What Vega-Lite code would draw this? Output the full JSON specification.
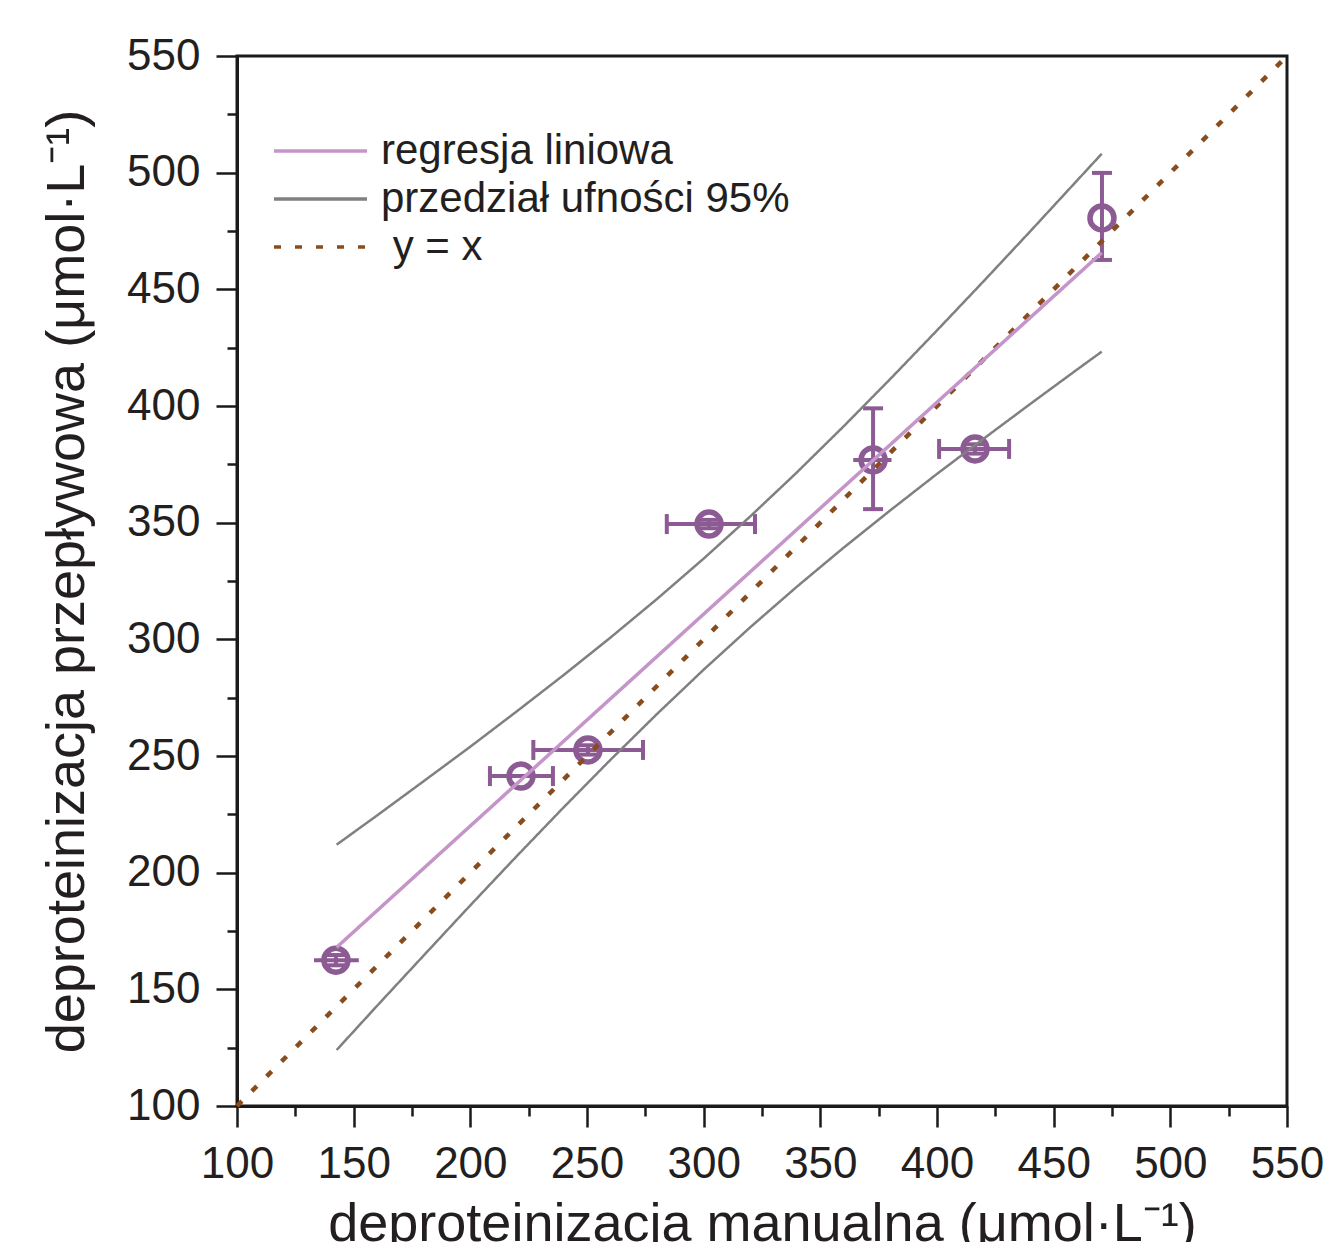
{
  "$schema": "https://vega.github.io/schema/vega-lite/v6.json",
  "width": 1050,
  "height": 1050,
  "autosize": {"type": "none"},
  "padding": {"left": 237, "top": 56, "right": 37, "bottom": 136},
  "background": "white",
  "config": {
    "font": "Liberation Sans",
    "view": {"stroke": "#1a1a1a", "strokeWidth": 3},
    "legend": {
      "orient": "none",
      "legendX": 35,
      "legendY": 74,
      "symbolType": "stroke",
      "symbolSize": 8649,
      "symbolStrokeWidth": 3.5,
      "labelFont": "Liberation Sans",
      "labelFontSize": 42,
      "labelColor": "#231f20",
      "labelOffset": 12,
      "labelLimit": 0,
      "clipHeight": 42,
      "rowPadding": 6,
      "padding": 0
    }
  },
  "datasets": {
    "points": [
      {"x": 142.4, "y": 162.5},
      {"x": 221.7, "y": 241.4},
      {"x": 250.4, "y": 252.6},
      {"x": 302.3, "y": 349.4},
      {"x": 372.6, "y": 376.9},
      {"x": 416.3, "y": 381.6},
      {"x": 470.7, "y": 480.6}
    ],
    "xerr": [
      {"y": 162.5, "xlo": 133.0, "xhi": 152.2},
      {"y": 241.4, "xlo": 208.4, "xhi": 235.4},
      {"y": 252.6, "xlo": 227.0, "xhi": 274.0},
      {"y": 349.4, "xlo": 284.2, "xhi": 322.0},
      {"y": 376.9, "xlo": 364.1, "xhi": 380.5},
      {"y": 381.6, "xlo": 400.9, "xhi": 430.9}
    ],
    "yerr": [
      {"x": 142.4, "ylo": 160.3, "yhi": 164.7},
      {"x": 250.4, "ylo": 250.6, "yhi": 254.6},
      {"x": 302.3, "ylo": 347.6, "yhi": 351.2},
      {"x": 372.6, "ylo": 355.8, "yhi": 399.0},
      {"x": 416.3, "ylo": 379.6, "yhi": 383.6},
      {"x": 470.7, "ylo": 462.6, "yhi": 499.9}
    ],
    "lines": [
      {"series": "\u2060 y = x", "curve": "yx", "x": 100, "y": 100},
      {"series": "\u2060 y = x", "curve": "yx", "x": 550, "y": 550},
      {"series": "regresja liniowa", "curve": "reg", "x": 142.7, "y": 168.0},
      {"series": "regresja liniowa", "curve": "reg", "x": 470.6, "y": 465.7},
      {"series": "przedział ufności 95%", "curve": "upper", "x": 142.7, "y": 212.0},
      {"series": "przedział ufności 95%", "curve": "upper", "x": 160, "y": 224.5},
      {"series": "przedział ufności 95%", "curve": "upper", "x": 180, "y": 239.2},
      {"series": "przedział ufności 95%", "curve": "upper", "x": 200, "y": 254.0},
      {"series": "przedział ufności 95%", "curve": "upper", "x": 220, "y": 269.2},
      {"series": "przedział ufności 95%", "curve": "upper", "x": 240, "y": 284.7},
      {"series": "przedział ufności 95%", "curve": "upper", "x": 260, "y": 300.7},
      {"series": "przedział ufności 95%", "curve": "upper", "x": 280, "y": 317.3},
      {"series": "przedział ufności 95%", "curve": "upper", "x": 300, "y": 334.6},
      {"series": "przedział ufności 95%", "curve": "upper", "x": 320, "y": 352.7},
      {"series": "przedział ufności 95%", "curve": "upper", "x": 340, "y": 371.6},
      {"series": "przedział ufności 95%", "curve": "upper", "x": 360, "y": 391.3},
      {"series": "przedział ufności 95%", "curve": "upper", "x": 380, "y": 411.6},
      {"series": "przedział ufności 95%", "curve": "upper", "x": 400, "y": 432.4},
      {"series": "przedział ufności 95%", "curve": "upper", "x": 420, "y": 453.5},
      {"series": "przedział ufności 95%", "curve": "upper", "x": 440, "y": 474.9},
      {"series": "przedział ufności 95%", "curve": "upper", "x": 460, "y": 496.6},
      {"series": "przedział ufności 95%", "curve": "upper", "x": 470.6, "y": 508.1},
      {"series": "przedział ufności 95%", "curve": "lower", "x": 142.7, "y": 124.0},
      {"series": "przedział ufności 95%", "curve": "lower", "x": 160, "y": 142.9},
      {"series": "przedział ufności 95%", "curve": "lower", "x": 180, "y": 164.5},
      {"series": "przedział ufności 95%", "curve": "lower", "x": 200, "y": 186.0},
      {"series": "przedział ufności 95%", "curve": "lower", "x": 220, "y": 207.2},
      {"series": "przedział ufności 95%", "curve": "lower", "x": 240, "y": 228.0},
      {"series": "przedział ufności 95%", "curve": "lower", "x": 260, "y": 248.3},
      {"series": "przedział ufności 95%", "curve": "lower", "x": 280, "y": 268.0},
      {"series": "przedział ufności 95%", "curve": "lower", "x": 300, "y": 287.0},
      {"series": "przedział ufności 95%", "curve": "lower", "x": 320, "y": 305.2},
      {"series": "przedział ufności 95%", "curve": "lower", "x": 340, "y": 322.6},
      {"series": "przedział ufności 95%", "curve": "lower", "x": 360, "y": 339.3},
      {"series": "przedział ufności 95%", "curve": "lower", "x": 380, "y": 355.3},
      {"series": "przedział ufności 95%", "curve": "lower", "x": 400, "y": 370.9},
      {"series": "przedział ufności 95%", "curve": "lower", "x": 420, "y": 386.0},
      {"series": "przedział ufności 95%", "curve": "lower", "x": 440, "y": 400.9},
      {"series": "przedział ufności 95%", "curve": "lower", "x": 460, "y": 415.6},
      {"series": "przedział ufności 95%", "curve": "lower", "x": 470.6, "y": 423.3}
    ]
  },
  "layer": [
    {
      "data": {"name": "points"},
      "mark": {"type": "point", "shape": "circle", "filled": false, "stroke": "#8d5b93", "strokeWidth": 5.5, "size": 576, "opacity": 1},
      "encoding": {
        "x": {
          "field": "x", "type": "quantitative",
          "scale": {"domain": [100, 550], "nice": false, "zero": false},
          "axis": {
            "title": "deproteinizacja manualna (μmol·L⁻¹)",
            "values": [100, 125, 150, 175, 200, 225, 250, 275, 300, 325, 350, 375, 400, 425, 450, 475, 500, 525, 550],
            "labelExpr": "datum.value % 50 === 0 ? datum.label : ''",
            "tickSize": {"condition": {"test": "datum.value % 50 === 0", "value": 21}, "value": 10},
            "tickWidth": 2.5,
            "tickColor": "#1a1a1a",
            "domainColor": "#1a1a1a",
            "domainWidth": 3,
            "grid": false,
            "labelFont": "Liberation Sans",
            "labelFontSize": 44,
            "labelColor": "#231f20",
            "labelPadding": 15,
            "labelOverlap": false,
            "labelFlush": false,
            "titleFont": "Liberation Sans",
            "titleFontSize": 54,
            "titleFontWeight": "normal",
            "titleColor": "#231f20",
            "titlePadding": 11
          }
        },
        "y": {
          "field": "y", "type": "quantitative",
          "scale": {"domain": [100, 550], "nice": false, "zero": false},
          "axis": {
            "title": "deproteinizacja przepływowa (μmol·L⁻¹)",
            "values": [100, 125, 150, 175, 200, 225, 250, 275, 300, 325, 350, 375, 400, 425, 450, 475, 500, 525, 550],
            "labelExpr": "datum.value % 50 === 0 ? datum.label : ''",
            "tickSize": {"condition": {"test": "datum.value % 50 === 0", "value": 21}, "value": 10},
            "tickWidth": 2.5,
            "tickColor": "#1a1a1a",
            "domainColor": "#1a1a1a",
            "domainWidth": 3,
            "grid": false,
            "labelFont": "Liberation Sans",
            "labelFontSize": 44,
            "labelColor": "#231f20",
            "labelPadding": 16,
            "labelOverlap": false,
            "labelFlush": false,
            "titleFont": "Liberation Sans",
            "titleFontSize": 54,
            "titleFontWeight": "normal",
            "titleColor": "#231f20",
            "titlePadding": 32
          }
        }
      }
    },
    {
      "data": {"name": "xerr"},
      "mark": {"type": "rule", "stroke": "#8d5b93", "strokeWidth": 4},
      "encoding": {
        "x": {"field": "xlo", "type": "quantitative"},
        "x2": {"field": "xhi"},
        "y": {"field": "y", "type": "quantitative"}
      }
    },
    {
      "data": {"name": "xerr"},
      "transform": [{"filter": "datum.xhi - datum.xlo > 20"}, {"fold": ["xlo", "xhi"], "as": ["end", "xv"]}],
      "mark": {"type": "tick", "orient": "vertical", "size": 20, "thickness": 4, "color": "#8d5b93", "opacity": 1},
      "encoding": {
        "x": {"field": "xv", "type": "quantitative"},
        "y": {"field": "y", "type": "quantitative"}
      }
    },
    {
      "data": {"name": "yerr"},
      "mark": {"type": "rule", "stroke": "#8d5b93", "strokeWidth": 4},
      "encoding": {
        "x": {"field": "x", "type": "quantitative"},
        "y": {"field": "ylo", "type": "quantitative"},
        "y2": {"field": "yhi"}
      }
    },
    {
      "data": {"name": "yerr"},
      "transform": [{"fold": ["ylo", "yhi"], "as": ["end", "yv"]}],
      "mark": {"type": "tick", "orient": "horizontal", "size": 20, "thickness": 4, "color": "#8d5b93", "opacity": 1},
      "encoding": {
        "x": {"field": "x", "type": "quantitative"},
        "y": {"field": "yv", "type": "quantitative"}
      }
    },
    {
      "data": {"name": "lines"},
      "transform": [{"filter": "datum.curve === 'upper' || datum.curve === 'lower'"}],
      "mark": {"type": "line", "interpolate": "linear", "strokeWidth": 2.5},
      "encoding": {
        "x": {"field": "x", "type": "quantitative"},
        "y": {"field": "y", "type": "quantitative"},
        "detail": {"field": "curve"},
        "color": {
          "field": "series", "type": "nominal",
          "scale": {"domain": ["regresja liniowa", "przedział ufności 95%", "\u2060 y = x"], "range": ["#c595c9", "#808080", "#8b4c1c"]},
          "legend": {"title": null}
        },
        "strokeDash": {
          "field": "series", "type": "nominal",
          "scale": {"domain": ["regresja liniowa", "przedział ufności 95%", "\u2060 y = x"], "range": [[1, 0], [1, 0], [7, 14]]},
          "legend": {"title": null}
        }
      }
    },
    {
      "data": {"name": "lines"},
      "transform": [{"filter": "datum.curve === 'yx'"}],
      "mark": {"type": "line", "interpolate": "linear", "strokeWidth": 4.5},
      "encoding": {
        "x": {"field": "x", "type": "quantitative"},
        "y": {"field": "y", "type": "quantitative"},
        "color": {"field": "series", "type": "nominal"},
        "strokeDash": {"field": "series", "type": "nominal"}
      }
    },
    {
      "data": {"name": "lines"},
      "transform": [{"filter": "datum.curve === 'reg'"}],
      "mark": {"type": "line", "interpolate": "linear", "strokeWidth": 3.5},
      "encoding": {
        "x": {"field": "x", "type": "quantitative"},
        "y": {"field": "y", "type": "quantitative"},
        "color": {"field": "series", "type": "nominal"},
        "strokeDash": {"field": "series", "type": "nominal"}
      }
    }
  ]
}
